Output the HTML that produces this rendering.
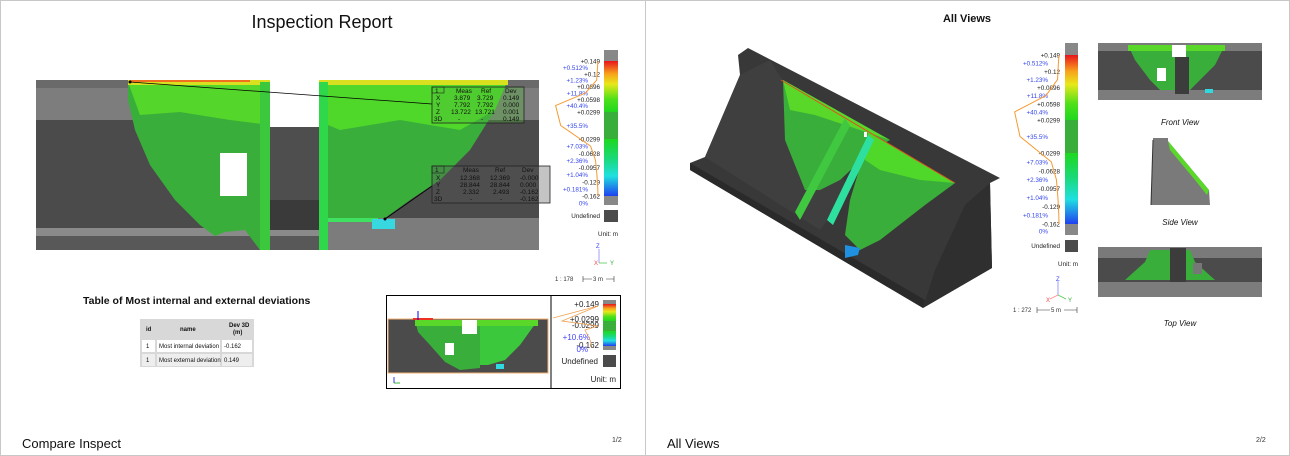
<!DOCTYPE html>
<html><head><meta charset="utf-8"><style>
html,body{margin:0;padding:0;background:#fff;}
svg{display:block;font-family:"Liberation Sans",Arial,sans-serif;}
</style></head><body>
<svg id="root" width="1290" height="456" viewBox="0 0 1290 456" xmlns="http://www.w3.org/2000/svg">
<defs>
<linearGradient id="gTop" x1="0" y1="0" x2="0" y2="1">
<stop offset="0" stop-color="#e8141c"/><stop offset="0.25" stop-color="#f7a21b"/><stop offset="0.45" stop-color="#e8e81a"/><stop offset="0.75" stop-color="#4fe01a"/><stop offset="1" stop-color="#1fd81f"/></linearGradient>
<linearGradient id="gBot" x1="0" y1="0" x2="0" y2="1">
<stop offset="0" stop-color="#1fd81f"/><stop offset="0.35" stop-color="#1ad97a"/><stop offset="0.65" stop-color="#1fe0e0"/><stop offset="1" stop-color="#2040f0"/></linearGradient>
</defs>

<!-- page frames -->
<rect x="0.5" y="0.5" width="1289" height="455" fill="#fff" stroke="#c8c8c8"/>
<line x1="645.5" y1="0" x2="645.5" y2="456" stroke="#c8c8c8"/>

<!-- ================= PAGE 1 ================= -->
<text x="322" y="28" font-size="18" text-anchor="middle" fill="#111">Inspection Report</text>

<g>
<rect x="36" y="80" width="503" height="170" fill="#4b4b4b"/>
<rect x="36" y="80" width="503" height="8" fill="#6a6a6a"/>
<rect x="36" y="88" width="503" height="32" fill="#7d7d7d"/>
<rect x="36" y="228" width="503" height="8" fill="#8a8a8a"/>
<rect x="36" y="236" width="503" height="14" fill="#585858"/>
<rect x="328" y="218" width="211" height="32" fill="#7c7c7c"/>
<polygon points="128,82 270,82 270,230 260,250 245,230 225,232 215,236 200,225 175,200 150,165 135,130 128,100" fill="#3aae3a"/>
<polygon points="128,82 270,82 270,125 230,120 180,112 140,115" fill="#55d62a"/>
<polygon points="328,82 507,82 495,110 470,150 440,180 410,200 385,218 328,218" fill="#3aae3a"/>
<polygon points="328,82 507,82 495,110 460,130 400,120 340,130 328,125" fill="#4fd82a"/>
<rect x="128" y="80" width="380" height="5" fill="#d8e020"/>
<rect x="130" y="80" width="120" height="2" fill="#f07020"/>
<rect x="260" y="82" width="10" height="168" fill="#3cc83c"/>
<rect x="319" y="82" width="9" height="168" fill="#2ed84a"/>
<rect x="270" y="80" width="49" height="47" fill="#fff"/>
<rect x="270" y="127" width="49" height="103" fill="#4e4e4e"/>
<rect x="270" y="200" width="49" height="30" fill="#3a3a3a"/>
<rect x="220" y="153" width="27" height="43" fill="#fff"/>
<rect x="328" y="218" width="50" height="4" fill="#40e060"/>
<rect x="372" y="219" width="23" height="10" fill="#38d8e0"/>
<line x1="130" y1="82" x2="432" y2="104" stroke="#000" stroke-width="0.8"/>
<circle cx="130" cy="82" r="1.5" fill="#000"/>
<line x1="385" y1="219" x2="432" y2="186" stroke="#000" stroke-width="0.8"/>
<circle cx="385" cy="219" r="1.5" fill="#000"/>
</g>

<g font-size="6.5" fill="#111">
<rect x="432" y="87" width="92" height="36" fill="#4fb83a" fill-opacity="0.35" stroke="#222" stroke-width="0.8"/>
<rect x="432" y="87" width="12" height="6" fill="none" stroke="#222" stroke-width="0.6"/>
<text x="435" y="93">1</text><text x="456" y="93">Meas</text><text x="481" y="93">Ref</text><text x="505" y="93">Dev</text>
<text x="436" y="100">X</text><text x="454" y="100">3.879</text><text x="477" y="100">3.729</text><text x="503" y="100">0.149</text>
<text x="436" y="107">Y</text><text x="454" y="107">7.792</text><text x="477" y="107">7.792</text><text x="503" y="107">0.000</text>
<text x="436" y="114">Z</text><text x="451" y="114">13.722</text><text x="475" y="114">13.721</text><text x="503" y="114">0.001</text>
<text x="434" y="121">3D</text><text x="458" y="121">-</text><text x="481" y="121">-</text><text x="503" y="121">0.149</text>
</g>
<g font-size="6.5" fill="#111">
<rect x="432" y="166" width="118" height="37" fill="#555" fill-opacity="0.35" stroke="#222" stroke-width="0.8"/>
<rect x="432" y="166" width="12" height="7" fill="none" stroke="#222" stroke-width="0.6"/>
<text x="435" y="172">1</text><text x="463" y="172">Meas</text><text x="495" y="172">Ref</text><text x="522" y="172">Dev</text>
<text x="436" y="180">X</text><text x="460" y="180">12.368</text><text x="490" y="180">12.369</text><text x="520" y="180">-0.000</text>
<text x="436" y="187">Y</text><text x="460" y="187">28.844</text><text x="490" y="187">28.844</text><text x="520" y="187">0.000</text>
<text x="436" y="194">Z</text><text x="463" y="194">2.332</text><text x="493" y="194">2.493</text><text x="520" y="194">-0.162</text>
<text x="434" y="201">3D</text><text x="470" y="201">-</text><text x="500" y="201">-</text><text x="520" y="201">-0.162</text>
</g>

<g id="legend1"></g>
<g id="legend2"></g>

<g font-size="6">
<line x1="599" y1="263" x2="599" y2="249" stroke="#88f" stroke-width="0.8"/>
<line x1="599" y1="263" x2="607" y2="263" stroke="#5c5" stroke-width="0.8"/>
<text x="596" y="248" fill="#44f">Z</text><text x="594" y="265" fill="#f44">X</text><text x="610" y="265" fill="#3a3">Y</text>
</g>
<g font-size="6" fill="#333">
<text x="555" y="281">1 : 178</text>
<line x1="583" y1="279" x2="614" y2="279" stroke="#333" stroke-width="0.6"/>
<line x1="583" y1="276" x2="583" y2="282" stroke="#333" stroke-width="0.6"/>
<line x1="614" y1="276" x2="614" y2="282" stroke="#333" stroke-width="0.6"/>
<rect x="592" y="276" width="14" height="6" fill="#fff"/><text x="593" y="281">3 m</text>
</g>

<text x="83" y="304" font-size="10.5" font-weight="bold" fill="#111">Table of Most internal and external deviations</text>
<g font-size="6" fill="#111">
<rect x="140" y="319" width="114" height="48" fill="#d8d8d8"/>
<rect x="142" y="340" width="13" height="12" fill="#fff"/><rect x="157" y="340" width="63" height="12" fill="#fff"/><rect x="222" y="340" width="30" height="12" fill="#fff"/>
<rect x="142" y="354" width="13" height="12" fill="#eee"/><rect x="157" y="354" width="63" height="12" fill="#eee"/><rect x="222" y="354" width="30" height="12" fill="#eee"/>
<text x="146" y="331" font-weight="bold">id</text><text x="180" y="331" font-weight="bold">name</text>
<text x="229" y="327" font-weight="bold">Dev 3D</text><text x="233" y="334" font-weight="bold">(m)</text>
<text x="146" y="348">1</text><text x="159" y="348">Most internal deviation</text><text x="224" y="348">-0.162</text>
<text x="146" y="362">1</text><text x="159" y="362">Most external deviation</text><text x="224" y="362">0.149</text>
</g>

<g>
<rect x="386.5" y="295.5" width="234" height="93" fill="#fff" stroke="#000"/>
<line x1="551" y1="295" x2="551" y2="389" stroke="#000"/>
<rect x="388" y="319" width="160" height="54" fill="#4b4b4b" stroke="#f0b070"/>
<polygon points="415,320 480,320 480,368 460,370 445,362 430,345 418,332" fill="#3aae3a"/>
<polygon points="480,320 538,320 520,345 505,360 488,365 480,365" fill="#3cc83c"/>
<rect x="415" y="320" width="123" height="6" fill="#5ad82a"/>
<rect x="462" y="320" width="15" height="14" fill="#fff"/>
<rect x="445" y="343" width="9" height="12" fill="#fff"/>
<rect x="413" y="318" width="20" height="2" fill="#f03020"/>
<line x1="418" y1="311" x2="418" y2="320" stroke="#00f"/>
<rect x="496" y="364" width="8" height="5" fill="#30d8e0"/>
<line x1="394" y1="377" x2="394" y2="383" stroke="#00f" stroke-width="0.8"/>
<line x1="394" y1="383" x2="400" y2="383" stroke="#0a0" stroke-width="0.8"/>
<g font-size="8" fill="#222" text-anchor="end">
<text x="599" y="307">+0.149</text><text x="599" y="322">+0.0299</text><text x="599" y="328">-0.0299</text>
<text x="590" y="340" fill="#44f">+10.6%</text><text x="599" y="348">-0.162</text><text x="588" y="352" fill="#44f">0%</text>
</g>
<polyline points="553,318 598,306 562,321 598,326 585,330 590,340 592,347" fill="none" stroke="#f0a050" stroke-width="0.8"/>
<rect x="603" y="300" width="13" height="4" fill="#888"/>
<rect x="603" y="304" width="13" height="17" fill="url(#gTop)"/>
<rect x="603" y="321" width="13" height="10" fill="#3aae3a"/>
<rect x="603" y="331" width="13" height="15" fill="url(#gBot)"/>
<rect x="603" y="346" width="13" height="4" fill="#888"/>
<text x="598" y="364" font-size="8" text-anchor="end" fill="#222">Undefined</text>
<rect x="603" y="355" width="13" height="12" fill="#4b4b4b"/>
<text x="616" y="382" font-size="8" text-anchor="end" fill="#222">Unit: m</text>
</g>

<text x="22" y="448" font-size="13" fill="#111">Compare Inspect</text>
<text x="612" y="442" font-size="7" fill="#333">1/2</text>

<!-- ================= PAGE 2 ================= -->
<text x="967" y="22" font-size="11" font-weight="bold" text-anchor="middle" fill="#111">All Views</text>

<g>
<polygon points="738,55 748,48 1000,178 990,183 992,268 923,308 690,170 690,163 705,157 740,75" fill="#383838"/>
<polygon points="740,75 705,157 820,230 850,190 770,60" fill="#3f3f3f"/>
<polygon points="990,183 992,268 923,308 935,270 965,205" fill="#2f2f2f"/>
<polygon points="690,163 690,170 923,308 925,300" fill="#2a2a2a"/>
<polygon points="783,80 890,140 872,150 840,180 820,190 805,190 795,165 785,140" fill="#3aae3a"/>
<polygon points="783,80 890,140 860,130 815,115 790,110" fill="#5ad82a"/>
<polygon points="868,132 955,183 925,205 880,240 860,250 845,235 850,200 862,160" fill="#3aae3a"/>
<polygon points="868,132 955,183 920,180 880,170 865,160" fill="#4fd82a"/>
<line x1="781" y1="80" x2="955" y2="183" stroke="#e05020" stroke-width="1"/>
<polygon points="845,118 850,126 800,220 795,212" fill="#40c840"/>
<polygon points="868,135 874,140 833,225 827,220" fill="#2ee0a0"/>
<polygon points="845,245 860,248 858,255 845,258" fill="#2090e0"/>
<rect x="864" y="132" width="3" height="5" fill="#fff"/>
</g>

<g font-size="6">
<line x1="1058" y1="295" x2="1058" y2="281" stroke="#88f" stroke-width="0.8"/>
<line x1="1058" y1="295" x2="1066" y2="299" stroke="#5c5" stroke-width="0.8"/>
<line x1="1058" y1="295" x2="1050" y2="299" stroke="#f88" stroke-width="0.8"/>
<text x="1056" y="281" fill="#44f">Z</text><text x="1046" y="302" fill="#f44">X</text><text x="1068" y="302" fill="#3a3">Y</text>
</g>
<g font-size="6" fill="#333">
<text x="1013" y="312">1 : 272</text>
<line x1="1037" y1="310" x2="1077" y2="310" stroke="#333" stroke-width="0.6"/>
<line x1="1037" y1="307" x2="1037" y2="313" stroke="#333" stroke-width="0.6"/>
<line x1="1077" y1="307" x2="1077" y2="313" stroke="#333" stroke-width="0.6"/>
<rect x="1050" y="307" width="14" height="6" fill="#fff"/><text x="1051" y="312">5 m</text>
</g>

<g>
<rect x="1098" y="43" width="164" height="57" fill="#4b4b4b"/>
<rect x="1098" y="43" width="164" height="8" fill="#7a7a7a"/>
<rect x="1098" y="90" width="164" height="10" fill="#7c7c7c"/>
<polygon points="1128,45 1225,45 1215,65 1200,80 1190,90 1160,90 1150,80 1135,60" fill="#3aae3a"/>
<rect x="1128" y="45" width="97" height="6" fill="#5ad82a"/>
<rect x="1172" y="45" width="14" height="12" fill="#fff"/>
<rect x="1157" y="68" width="9" height="13" fill="#fff"/>
<rect x="1175" y="57" width="14" height="37" fill="#3c3c3c"/>
<rect x="1205" y="89" width="8" height="4" fill="#30d8e0"/>
</g>
<text x="1180" y="125" font-size="8" font-style="italic" text-anchor="middle" fill="#111">Front View</text>

<g>
<polygon points="1153,138 1168,138 1168,141 1209,190 1210,205 1151,205" fill="#7a7a7a"/>
<polygon points="1168,141 1209,190 1207,195 1195,180 1170,150" fill="#5ad82a"/>
<line x1="1153" y1="140" x2="1151" y2="205" stroke="#333"/>
</g>
<text x="1180" y="225" font-size="8" font-style="italic" text-anchor="middle" fill="#111">Side View</text>

<g>
<rect x="1098" y="247" width="164" height="50" fill="#4b4b4b"/>
<rect x="1098" y="247" width="164" height="11" fill="#7a7a7a"/>
<rect x="1098" y="282" width="164" height="15" fill="#7c7c7c"/>
<polygon points="1125,280 1145,262 1150,250 1190,250 1195,262 1215,280" fill="#3aae3a"/>
<rect x="1170" y="248" width="16" height="34" fill="#3c3c3c"/>
<rect x="1193" y="263" width="9" height="11" fill="#777"/>
</g>
<text x="1180" y="326" font-size="8" font-style="italic" text-anchor="middle" fill="#111">Top View</text>

<text x="667" y="448" font-size="13" fill="#111">All Views</text>
<text x="1256" y="442" font-size="7" fill="#333">2/2</text>
</svg>

<script>
// Legend data
const boundaryLabels = ["+0.149","+0.12","+0.0896","+0.0598","+0.0299","-0.0299","-0.0628","-0.0957","-0.129","-0.162"];
const binPercents = ["+0.512%","+1.23%","+11.8%","+40.4%","+35.5%","+7.03%","+2.36%","+1.04%","+0.181%","0%"];
const binValues = [0.512, 1.23, 11.8, 40.4, 35.5, 7.03, 2.36, 1.04, 0.181, 0];

const NS = "http://www.w3.org/2000/svg";
function mk(tag, attrs, parent, txt){
  const e = document.createElementNS(NS, tag);
  for (const k in attrs) e.setAttribute(k, attrs[k]);
  if (txt !== undefined) e.textContent = txt;
  parent.appendChild(e);
  return e;
}

function drawLegend(g, cfg){
  // cfg: barX, barW, top (label y of +0.149), midTop (+0.0299), midBot (-0.0299), bot (-0.162), grayTop, grayBot, labelX, histBase, histScale, fs
  const yB = i => {
    if (i <= 4) return cfg.top + (cfg.midTop - cfg.top) * i / 4;
    return cfg.midBot + (cfg.bot - cfg.midBot) * (i - 5) / 4;
  };
  const bar = mk('rect', {x: cfg.barX, y: cfg.grayTop, width: cfg.barW, height: cfg.top - cfg.grayTop, fill: '#888'}, g);
  
  
  const r1 = mk('rect', {x: cfg.barX, y: cfg.top, width: cfg.barW, height: cfg.midTop - cfg.top, fill: 'url(#gTop)'}, g);
  
  
  const r2 = mk('rect', {x: cfg.barX, y: cfg.midTop, width: cfg.barW, height: cfg.midBot - cfg.midTop, fill: '#3aae3a'}, g);
  
  
  const r3 = mk('rect', {x: cfg.barX, y: cfg.midBot, width: cfg.barW, height: cfg.bot - cfg.midBot, fill: 'url(#gBot)'}, g);
  
  
  const r4 = mk('rect', {x: cfg.barX, y: cfg.bot, width: cfg.barW, height: cfg.grayBot - cfg.bot, fill: '#888'}, g);
  
  

  boundaryLabels.forEach((t, i) => {
    const e = mk('text', {x: cfg.labelX, y: yB(i) + 2.5, 'font-size': cfg.fs, 'text-anchor': 'end', fill: '#222'}, g, t);
    
    
  });
  const pts = [];
  binPercents.forEach((t, i) => {
    const yc = i < 9 ? (yB(i) + yB(i + 1)) / 2 : cfg.bot + 7;
    const e = mk('text', {x: cfg.labelX - 12, y: yc + 2.5, 'font-size': cfg.fs, 'text-anchor': 'end', fill: '#3344ee'}, g, t);
    
    
    if (i < 9) pts.push([cfg.histBase - binValues[i] * cfg.histScale, yc]);
  });
  let d = `M${cfg.histBase},${cfg.top}`;
  pts.forEach(p => d += ` L${p[0].toFixed(1)},${p[1].toFixed(1)}`);
  d += ` L${cfg.histBase},${cfg.bot}`;
  const h = mk('path', {d: d, fill: 'none', stroke: '#f59a30', 'stroke-width': 1, 'stroke-linejoin': 'round'}, g);
  
  

  const u = mk('text', {x: cfg.labelX, y: cfg.undefY + 8, 'font-size': cfg.fs, 'text-anchor': 'end', fill: '#222'}, g, 'Undefined');
  
  
  const ub = mk('rect', {x: cfg.barX, y: cfg.undefY, width: cfg.barW, height: 12, fill: '#4b4b4b'}, g);
  
  
  const un = mk('text', {x: cfg.barX + cfg.barW, y: cfg.unitY, 'font-size': cfg.fs, 'text-anchor': 'end', fill: '#222'}, g, 'Unit: m');
  
  
}

drawLegend(document.getElementById('legend1'), {barX:604, barW:14, grayTop:50, top:61, midTop:112, midBot:139, bot:196, grayBot:205, labelX:600, histBase:598, histScale:1.05, fs:6.3, undefY:210, unitY:236});
drawLegend(document.getElementById('legend2'), {barX:1065, barW:13, grayTop:43, top:55, midTop:120, midBot:153, bot:224, grayBot:235, labelX:1060, histBase:1059, histScale:1.1, fs:6.3, undefY:240, unitY:266});
</script>
</body></html>
